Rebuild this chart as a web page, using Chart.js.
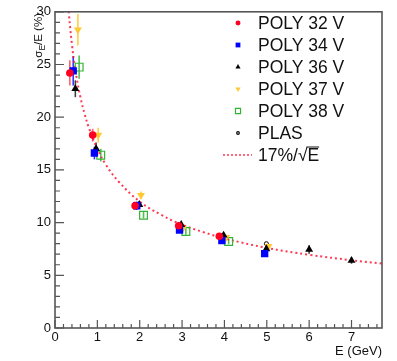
<!DOCTYPE html>
<html>
<head>
<meta charset="utf-8">
<script src="https://cdn.jsdelivr.net/npm/chart.js@4.4.0/dist/chart.umd.min.js"></script>
<style>
  html, body { margin: 0; padding: 0; background: #fff; }
  #wrap { width: 397px; height: 361px; }
</style>
</head>
<body>
<div id="wrap"><canvas id="resol"></canvas></div>
<script>
// beam energy (GeV), resolution (%) and vertical errors per configuration
const e32 = [0.35, 0.89, 1.89, 2.92, 3.88];
const v32 = [24.2, 18.3, 11.6, 9.7, 8.7];
const err32 = [1.2, 0.6, 0.4, 0.3, 0.25];

const e34 = [0.43, 0.93, 1.93, 2.94, 3.94, 4.95];
const v34 = [24.4, 16.6, 11.6, 9.3, 8.3, 7.05];
const err34 = [1.4, 0.6, 0.4, 0.3, 0.25, 0.3];

const e36 = [0.48, 0.97, 1.99, 2.98, 3.98, 4.99, 6.0, 7.0];
const v36 = [22.7, 17.0, 11.7, 9.8, 8.8, 7.5, 7.45, 6.4];
const err36 = [0.8, 0.6, 0.35, 0.3, 0.25, 0.3, 0.4, 0.3];

const e37 = [0.54, 1.02, 2.03, 3.02, 4.04, 5.04];
const v37 = [28.3, 18.3, 12.6, 9.45, 8.6, 7.75];
const err37 = [1.5, 0.7, 0.35, 0.3, 0.25, 0.25];

const e38 = [0.57, 1.08, 2.09, 3.09, 4.10];
const v38 = [24.75, 16.4, 10.7, 9.15, 8.2];
const err38 = [1.1, 0.6, 0.3, 0.3, 0.25];

const ePlas = [4.99];
const vPlas = [8.0];
const errPlas = [0.15];

// 17%/sqrt(E) curve
const eFit = [0.3, 0.4, 0.5, 0.6, 0.7, 0.8, 1.0, 1.2, 1.5, 2.0, 2.5, 3.0, 3.5, 4.0, 5.0, 6.0, 7.0, 7.72];
const vFit = [31.0, 26.9, 24.0, 21.9, 20.3, 19.0, 17.0, 15.5, 13.9, 12.0, 10.75, 9.8, 9.1, 8.5, 7.6, 6.95, 6.43, 6.12];

const legendLabels = ['POLY 32 V', 'POLY 34 V', 'POLY 36 V', 'POLY 37 V', 'POLY 38 V', 'PLAS', '17%/\u221AE'];

const xTicks = [0, 1, 2, 3, 4, 5, 6, 7];
const yTicks = [0, 5, 10, 15, 20, 25, 30];

const FONT = "'Liberation Sans', Arial, sans-serif";

function pts(xs, ys) {
    return xs.map((x, i) => ({ x: x, y: ys[i] }));
}

const datasets = [
    { label: legendLabels[0], data: pts(e32, v32), errs: err32, errColor: 'rgba(255,40,60,0.75)',
      pointStyle: 'circle', pointRadius: 3.8, backgroundColor: '#ff0022', borderColor: '#ff0022', borderWidth: 0 },
    { label: legendLabels[1], data: pts(e34, v34), errs: err34, errColor: 'rgba(0,0,255,0.8)',
      pointStyle: 'rect', pointRadius: 5.2, backgroundColor: '#0000ff', borderColor: '#0000ff', borderWidth: 0 },
    { label: legendLabels[2], data: pts(e36, v36), errs: err36, errColor: 'rgba(0,0,0,0.75)',
      pointStyle: 'triangle', pointRadius: 4.6, backgroundColor: '#000', borderColor: '#000', borderWidth: 0 },
    { label: legendLabels[3], data: pts(e37, v37), errs: err37, errColor: 'rgba(255,200,50,0.9)',
      pointStyle: 'triangle', rotation: 180, pointRadius: 4.6, backgroundColor: '#ffc933', borderColor: '#ffc933', borderWidth: 0 },
    { label: legendLabels[4], data: pts(e38, v38), errs: err38, errColor: 'rgba(50,180,50,0.85)',
      pointStyle: 'rect', pointRadius: 5.5, backgroundColor: 'rgba(0,0,0,0)', borderColor: '#33b333', borderWidth: 1.2 },
    { label: legendLabels[5], data: pts(ePlas, vPlas), errs: errPlas, errColor: 'rgba(0,0,0,0.7)',
      pointStyle: 'circle', pointRadius: 2, backgroundColor: '#fff', borderColor: '#000', borderWidth: 1 },
    { label: legendLabels[6], data: pts(eFit, vFit), showLine: true, pointRadius: 0,
      borderColor: 'rgba(255,20,50,0.85)', borderWidth: 2, borderDash: [2, 3], tension: 0.4, fill: false }
];

// vertical error bars, drawn under the markers
const errorBars = {
    id: 'errorBars',
    beforeDatasetsDraw(chart) {
        const ctx = chart.ctx;
        const xs = chart.scales.x, ys = chart.scales.y;
        ctx.save();
        chart.data.datasets.forEach(ds => {
            if (!ds.errs) return;
            ctx.strokeStyle = ds.errColor;
            ctx.lineWidth = 1.6;
            ds.data.forEach((p, i) => {
                const px = xs.getPixelForValue(p.x);
                ctx.beginPath();
                ctx.moveTo(px, ys.getPixelForValue(p.y - ds.errs[i]));
                ctx.lineTo(px, ys.getPixelForValue(p.y + ds.errs[i]));
                ctx.stroke();
            });
        });
        ctx.restore();
    }
};

// ROOT-like frame, inward ticks, axis titles and legend
const frame = {
    id: 'frame',
    afterDraw(chart) {
        const ctx = chart.ctx;
        const a = chart.chartArea;
        const xs = chart.scales.x, ys = chart.scales.y;
        ctx.save();
        ctx.strokeStyle = '#555';
        ctx.lineWidth = 1.6;
        ctx.strokeRect(a.left, a.top, a.right - a.left, a.bottom - a.top);

        ctx.lineWidth = 1.2;
        ctx.beginPath();
        for (let i = 0; i <= 38; i++) {
            const v = i * 0.2;
            if (v > xs.max) break;
            const px = xs.getPixelForValue(v);
            const len = (i % 5 === 0) ? 8 : 4;
            ctx.moveTo(px, a.bottom);
            ctx.lineTo(px, a.bottom - len);
        }
        for (let v = 0; v <= 30; v++) {
            const py = ys.getPixelForValue(v);
            const len = (v % 5 === 0) ? 9 : 5;
            ctx.moveTo(a.left, py);
            ctx.lineTo(a.left + len, py);
        }
        ctx.stroke();

        // x title
        ctx.fillStyle = '#111';
        ctx.font = '13px ' + FONT;
        ctx.textAlign = 'right';
        ctx.textBaseline = 'alphabetic';
        ctx.fillText('E (GeV)', a.right, 355);

        // y title: sigma_E/E (%)
        ctx.save();
        ctx.translate(41.5, 13);
        ctx.rotate(-Math.PI / 2);
        ctx.textAlign = 'left';
        const big = '11.5px ' + FONT, small = '8.5px ' + FONT;
        ctx.font = big;
        const w1 = ctx.measureText('\u03C3').width;
        const w3 = ctx.measureText('/E (%)').width;
        ctx.font = small;
        const w2 = ctx.measureText('E').width;
        let x0 = -(w1 + w2 + w3);
        ctx.font = big;
        ctx.fillText('\u03C3', x0, 0);
        ctx.font = small;
        ctx.fillText('E', x0 + w1, 3);
        ctx.font = big;
        ctx.fillText('/E (%)', x0 + w1 + w2, 0);
        ctx.restore();

        // legend
        const lx = 238, tx = 258;
        ctx.font = '17.5px ' + FONT;
        ctx.textAlign = 'left';
        ctx.textBaseline = 'middle';
        chart.data.datasets.forEach((ds, i) => {
            const ly = 23 + i * 22;
            if (ds.showLine) {
                ctx.strokeStyle = ds.borderColor;
                ctx.lineWidth = 1.5;
                ctx.setLineDash([2, 2]);
                ctx.beginPath();
                ctx.moveTo(223, ly);
                ctx.lineTo(252, ly);
                ctx.stroke();
                ctx.setLineDash([]);
            } else {
                ctx.fillStyle = ds.backgroundColor;
                ctx.strokeStyle = ds.borderColor;
                Chart.helpers.drawPoint(ctx, {
                    pointStyle: ds.pointStyle,
                    rotation: ds.rotation || 0,
                    radius: ds.pointRadius * 0.65,
                    borderWidth: ds.borderWidth
                }, lx, ly);
            }
            ctx.fillStyle = '#111';
            ctx.fillText(ds.label, tx, ly + 1);
            if (ds.showLine) {
                // overline of the square root
                const wPre = ctx.measureText('17%/\u221A').width;
                const wE = ctx.measureText('E').width;
                ctx.strokeStyle = '#111';
                ctx.lineWidth = 1;
                ctx.beginPath();
                ctx.moveTo(tx + wPre - 1, ly - 8);
                ctx.lineTo(tx + wPre + wE, ly - 8);
                ctx.stroke();
            }
        });
        ctx.restore();
    }
};

const config = {
    type: 'scatter',
    data: { datasets: datasets },
    options: {
        responsive: true,
        maintainAspectRatio: false,
        animation: false,
        layout: { padding: { top: 7, right: 15, left: 0, bottom: 0 } },
        scales: {
            x: {
                type: 'linear',
                min: 0,
                max: 7.72,
                afterFit(scale) { scale.height = 33; },
                grid: { display: false, drawTicks: false },
                border: { display: false },
                ticks: {
                    stepSize: 1,
                    includeBounds: false,
                    autoSkip: false,
                    padding: 2,
                    color: '#111',
                    font: { family: FONT, size: 13 },
                    callback: v => xTicks.includes(v) ? String(v) : ''
                }
            },
            y: {
                type: 'linear',
                min: 0,
                max: 30,
                afterFit(scale) { scale.width = 55; },
                grid: { display: false, drawTicks: false },
                border: { display: false },
                ticks: {
                    stepSize: 5,
                    padding: 4,
                    color: '#111',
                    font: { family: FONT, size: 13 },
                    callback: v => yTicks.includes(v) ? String(v) : ''
                }
            }
        },
        plugins: {
            legend: { display: false },
            tooltip: { enabled: false }
        }
    },
    plugins: [errorBars, frame]
};

const resolChart = new Chart(document.getElementById('resol'), config);
</script>
</body>
</html>
